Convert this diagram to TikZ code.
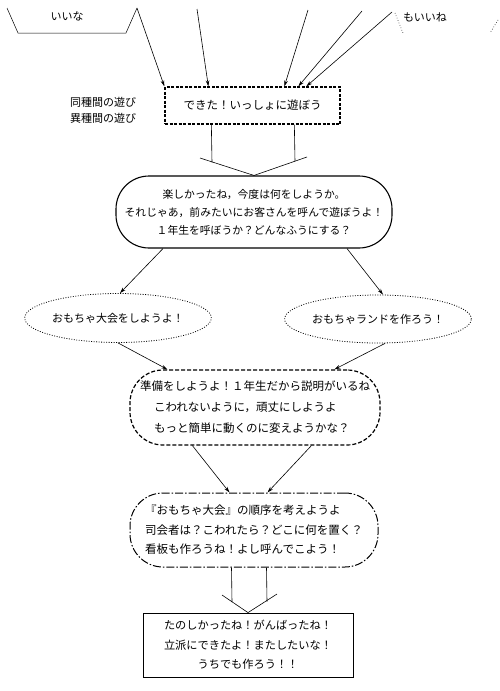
\documentclass[tikz,border=0pt]{standalone}
\usepackage{fontspec}
\newfontfamily\jp{Noto Sans CJK JP}
\usetikzlibrary{arrows.meta,calc,shapes.geometric}
\begin{document}
\begin{tikzpicture}[x=1pt,y=-1pt,
  arr/.style={-{Stealth[length=6pt,width=3.6pt]},line width=0.6pt},
  ln/.style={line width=0.6pt},
  txt/.style={font=\jp\fontsize{11}{19}\selectfont},
  stad/.style={draw,rounded corners=33pt,inner sep=0pt,txt},
  ell/.style={draw,ellipse,dash pattern=on 0.9pt off 1.6pt,line width=0.8pt,inner sep=0pt,txt}]
\useasboundingbox (0,0) rectangle (500,691);

% top shapes
\draw[line width=0.5pt] (7,8) -- (18,33) -- (126,33) -- (137,8);
\node[txt] (iina) at (67,16) {いいな};
\draw[dotted,line width=0.6pt] (395,13) -- (403,33);
\draw[dotted,line width=0.6pt] (498,20) -- (490,33);
\node[txt] (moiine) at (425,17) {もいいね};
\coordinate (t1) at (137,8);
\coordinate (t2) at (197,9);
\coordinate (t3) at (308,10);
\coordinate (t4) at (362,11);
\coordinate (t5) at (392,12);

% first box
\node[draw,dash pattern=on 3pt off 1.5pt,line width=1.3pt,minimum width=175pt,minimum height=37pt,inner sep=0pt,font=\jp\fontsize{11.5}{19}\selectfont] (b1) at (252.5,105.5) {できた！いっしょに遊ぼう};
\node[align=center,font=\jp\fontsize{11}{16}\selectfont] (lab) at (103,110) {同種間の遊び\\異種間の遊び};

\draw[arr] (t1) -- (b1.north west);
\draw[arr] (t2) -- ($(b1.north west)+(44,0)$);
\draw[arr] (t3) -- ($(b1.north west)+(120,0)$);
\draw[arr] (t4) -- ($(b1.north west)+(134,0)$);
\draw[arr] (t5) -- ($(b1.north west)+(142,0)$);

% stadium 1
\node[stad,line width=1.1pt,minimum width=276pt,minimum height=72pt,align=center,font=\jp\fontsize{10.8}{18}\selectfont] (s1) at (254,212)
  {楽しかったね，今度は何をしようか。\\それじゃあ，前みたいにお客さんを呼んで遊ぼうよ！\\１年生を呼ぼうか？どんなふうにする？};

% hollow arrow 1
\draw[ln] ($(b1.south west)+(47,0)$) -- (212,162.3);
\draw[ln] ($(b1.south west)+(130,0)$) -- (295,161.4);
\draw[ln] (200,158) -- (s1.north) -- (307,157);

% ellipses
\node[ell,minimum width=165pt,minimum height=49pt] (e1) at (118,318) {おもちゃ大会をしようよ！};
\node[ell,minimum width=157pt,minimum height=48pt] (e2) at (378,319) {おもちゃランドを作ろう！};

\draw[arr] ($(s1.south)+(-91,0)$) -- ($(e1.north)+(2,0)$);
\draw[arr] ($(s1.south)+(93,0)$) -- ($(e2.north)+(5,0)$);

% stadium 2
\node[stad,dash pattern=on 4pt off 2pt,line width=1.2pt,minimum width=250pt,minimum height=75pt,align=left,font=\jp\fontsize{11.5}{21}\selectfont] (s2) at (255,407.5)
  {準備をしようよ！１年生だから説明がいるね\\\hspace*{14pt}こわれないように，頑丈にしようよ\\\hspace*{14pt}もっと簡単に動くのに変えようかな？};

\draw[arr] (e1.south) -- ($(s2.north west)+(38,0)$);
\draw[arr] ($(e2.south)+(7,0)$) -- ($(s2.north west)+(205,0)$);

% stadium 3
\node[stad,dash pattern=on 8pt off 2pt on 1.5pt off 2pt,line width=1pt,minimum width=248pt,minimum height=74pt,align=left,font=\jp\fontsize{11.5}{19.5}\selectfont] (s3) at (254,530)
  {『おもちゃ大会』の順序を考えようよ\\司会者は？こわれたら？どこに何を置く？\\看板も作ろうね！よし呼んでこよう！};

\draw[arr] ($(s2.south west)+(63,0)$) -- ($(s3.north west)+(100,0)$);
\draw[arr] ($(s2.south west)+(182,0)$) -- ($(s3.north west)+(138,0)$);

% final box
\node[draw,line width=0.8pt,minimum width=210pt,minimum height=64pt,inner sep=0pt,align=center,font=\jp\fontsize{11.2}{19.5}\selectfont] (f) at (248,645)
  {たのしかったね！がんばったね！\\立派にできたよ！またしたいな！\\うちでも作ろう！！};

% hollow arrow 2
\draw[ln] ($(s3.south west)+(102,0)$) -- (232,602);
\draw[ln] ($(s3.south west)+(137,0)$) -- (267,601.5);
\draw[ln] (222,595) -- (f.north) -- (277,594);
\end{tikzpicture}
\end{document}
